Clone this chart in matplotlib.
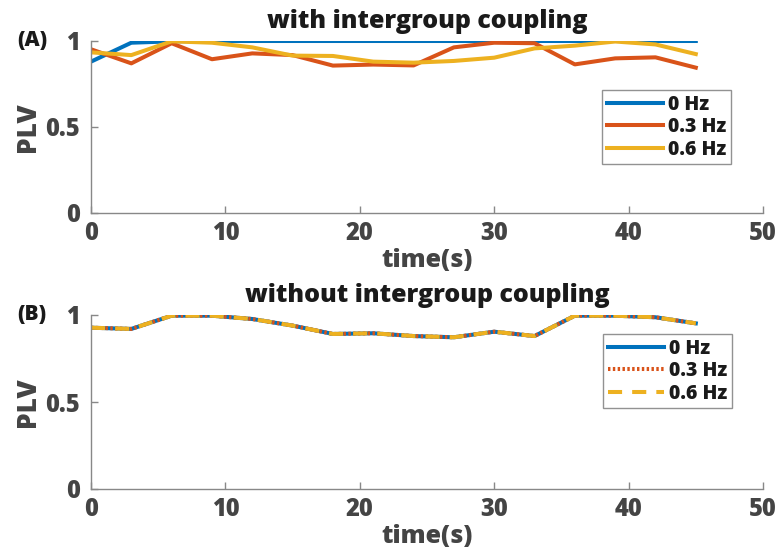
import matplotlib
matplotlib.use("Agg")
import matplotlib.pyplot as plt

# time axis (s)
t = [0, 3, 6, 9, 12, 15, 18, 21, 24, 27, 30, 33, 36, 39, 42, 45]

# (A) with intergroup coupling
plv_a_0hz = [0.88, 0.99, 0.998, 1.0, 1.0, 1.0, 1.0, 1.0, 1.0, 1.0, 1.0, 1.0, 1.0, 1.0, 1.0, 1.0]
plv_a_03hz = [0.952, 0.87, 0.987, 0.894, 0.928, 0.918, 0.857, 0.863, 0.858, 0.963, 0.99, 0.987, 0.864, 0.899, 0.905, 0.845]
plv_a_06hz = [0.934, 0.918, 0.998, 0.99, 0.963, 0.915, 0.913, 0.88, 0.874, 0.884, 0.903, 0.957, 0.973, 0.997, 0.98, 0.924]

# (B) without intergroup coupling -- all three curves coincide
plv_b = [0.927, 0.92, 0.996, 0.996, 0.977, 0.939, 0.891, 0.895, 0.879, 0.872, 0.904, 0.879, 0.996, 0.996, 0.987, 0.952]
plv_b_0hz = plv_b
plv_b_03hz = plv_b
plv_b_06hz = plv_b

labels = ['0 Hz', '0.3 Hz', '0.6 Hz']
titles = ['with intergroup coupling', 'without intergroup coupling']
panels = ['(A)', '(B)']

blue, orange, yellow = '#0072BD', '#D95319', '#EDB120'
tick_col = '#444444'
txt_col = '#1a1a1a'
W = 'heavy'

plt.rcParams['font.family'] = ['Open Sans', 'DejaVu Sans']

fig = plt.figure(figsize=(7.76, 5.52), dpi=100)
ax1 = fig.add_axes([91 / 776, 1 - 213 / 552, 672 / 776, 172 / 552])
ax2 = fig.add_axes([91 / 776, 1 - 489 / 552, 672 / 776, 174 / 552])

lw = 2.9
ax1.plot(t, plv_a_0hz, color=blue, lw=lw, label=labels[0])
ax1.plot(t, plv_a_03hz, color=orange, lw=lw, label=labels[1])
ax1.plot(t, plv_a_06hz, color=yellow, lw=lw, label=labels[2])

ax2.plot(t, plv_b_0hz, color=blue, lw=lw, label=labels[0])
ax2.plot(t, plv_b_03hz, color=orange, lw=lw, ls=(0, (0.6, 0.6)), label=labels[1])
ax2.plot(t, plv_b_06hz, color=yellow, lw=lw, ls=(0, (3.5, 2.5)), label=labels[2])

for ax, title, panel in zip([ax1, ax2], titles, panels):
    ax.set_xlim(0, 50)
    ax.set_ylim(0, 1)
    ax.set_xticks([0, 10, 20, 30, 40, 50])
    ax.set_yticks([0, 0.5, 1])
    ax.set_yticklabels(['0', '0.5', '1'])
    for s in ['top', 'right']:
        ax.spines[s].set_visible(False)
    for s in ['left', 'bottom']:
        ax.spines[s].set_color('#888888')
        ax.spines[s].set_linewidth(1.0)
    ax.tick_params(direction='in', length=5, width=1, colors='#888888',
                   labelcolor=tick_col, labelsize=17)
    ax.tick_params(axis='x', pad=6)
    ax.tick_params(axis='y', pad=8)
    for lab in ax.get_xticklabels() + ax.get_yticklabels():
        lab.set_fontweight(W)
    ax.set_xlabel('time(s)', fontsize=18, fontweight=W, color=tick_col, labelpad=1)
    ax.set_ylabel('PLV', fontsize=19, fontweight=W, color=tick_col, labelpad=3)
    ax.set_title(title, fontsize=18, fontweight=W, color=txt_col, pad=9)
    ax.text(-0.11, 1.0, panel, transform=ax.transAxes, fontsize=15,
            fontweight=W, color=txt_col, ha='left', va='center')
    leg = ax.legend(loc='upper left', frameon=True,
                    fontsize=14, handlelength=2.9, handletextpad=0.25,
                    borderpad=0.25, labelspacing=0.12, borderaxespad=0, fancybox=False)
    leg.get_frame().set_edgecolor('#777777')
    leg.get_frame().set_linewidth(1.0)
    for txt in leg.get_texts():
        txt.set_fontweight(W)
        txt.set_color(txt_col)

# place legends by figure pixel position (top-left corners)
ax1.get_legend().set_bbox_to_anchor((602 / 776, 1 - 90 / 552), transform=fig.transFigure)
ax2.get_legend().set_bbox_to_anchor((603 / 776, 1 - 334 / 552), transform=fig.transFigure)

fig.savefig('out.png', dpi=100)
